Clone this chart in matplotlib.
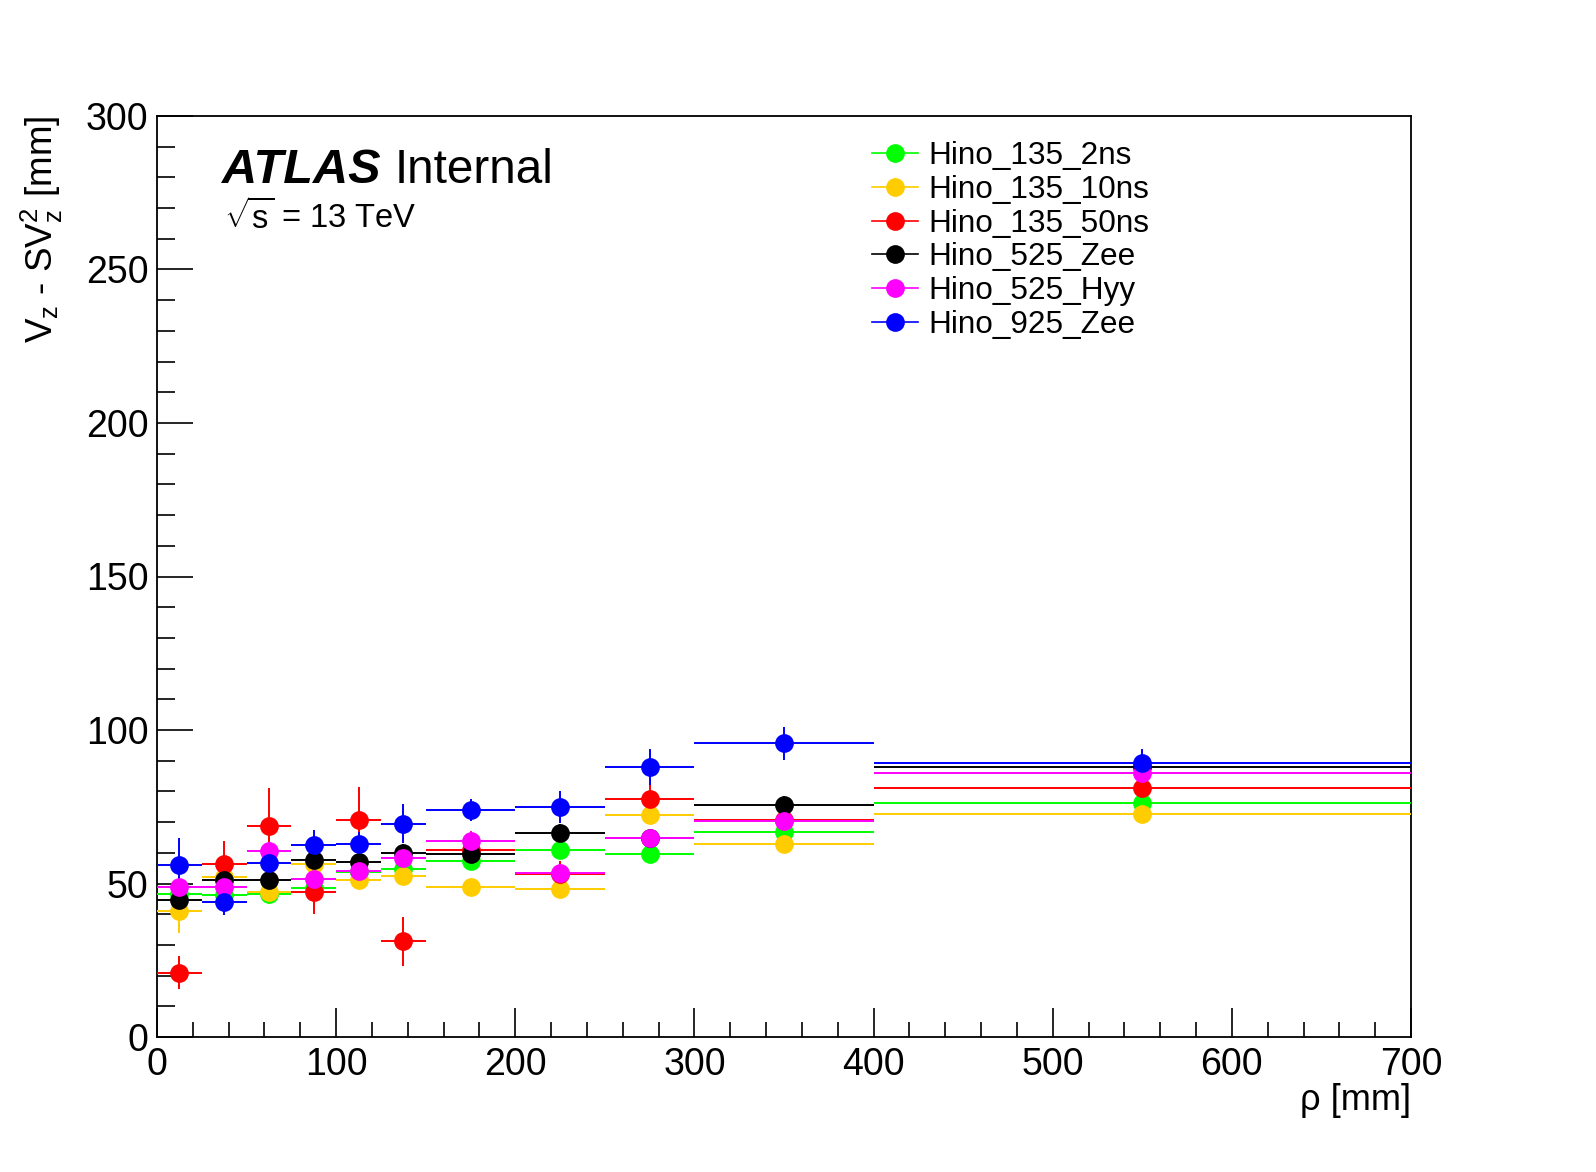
import matplotlib
matplotlib.use("Agg")
import matplotlib.pyplot as plt
from matplotlib.lines import Line2D
from matplotlib.ticker import MultipleLocator
import numpy as np

plt.rcParams['font.family'] = ['Liberation Sans', 'DejaVu Sans']
plt.rcParams['mathtext.fontset'] = 'custom'
plt.rcParams['mathtext.rm'] = 'Liberation Sans'
plt.rcParams['mathtext.it'] = 'Liberation Sans:italic'
plt.rcParams['mathtext.bf'] = 'Liberation Sans:bold'

# ---- data ----
x_edges = [0, 25, 50, 75, 100, 125, 150, 200, 250, 300, 400, 700]

series_names = ["Hino_135_2ns", "Hino_135_10ns", "Hino_135_50ns",
                "Hino_525_Zee", "Hino_525_Hyy", "Hino_925_Zee"]
series_colors = ["#00ff00", "#ffcc00", "#ff0000", "#000000", "#ff00ff", "#0000ff"]

hino_135_2ns = [46.6, 46.3, 46.6, 48.4, 53.9, 54.8, 57.3, 60.9, 59.6, 66.9, 76.2]
hino_135_10ns = [40.9, 52.1, 47.1, 56.4, 51.1, 52.6, 49.0, 48.1, 72.3, 62.8, 72.7]
hino_135_50ns = [21.0, 56.4, 68.8, 47.1, 70.7, 31.2, 60.9, 53.2, 77.4, 70.7, 81.1]
hino_525_zee = [44.6, 51.1, 51.0, 57.6, 57.0, 59.9, 59.5, 66.4, 64.7, 75.5, 88.0]
hino_525_hyy = [49.0, 48.8, 60.6, 51.5, 54.1, 58.2, 64.0, 53.4, 64.7, 70.5, 86.1]
hino_925_zee = [56.1, 43.9, 56.7, 62.4, 62.8, 69.5, 73.9, 74.9, 88.0, 95.7, 89.4]

err_135_2ns = [2.5, 2.5, 2.5, 2.5, 2.5, 2.5, 2.5, 2.5, 2.5, 2.5, 2.0]
err_135_10ns = [7.0, 2.5, 3.8, 3.0, 3.0, 3.0, 2.5, 2.5, 3.0, 2.5, 2.0]
err_135_50ns = [5.5, 7.4, 12.2, 7.0, 10.6, 8.0, 4.0, 4.0, 5.0, 4.0, 2.5]
err_525_zee = [4.5, 3.0, 3.0, 3.0, 3.0, 3.0, 3.0, 3.0, 3.0, 3.0, 2.5]
err_525_hyy = [3.0, 3.0, 3.0, 3.0, 3.0, 3.0, 3.2, 3.0, 3.0, 3.0, 2.5]
err_925_zee = [8.8, 4.3, 4.0, 4.9, 4.0, 6.4, 3.5, 5.2, 5.9, 5.4, 4.5]

values = [hino_135_2ns, hino_135_10ns, hino_135_50ns, hino_525_zee, hino_525_hyy, hino_925_zee]
errors = [err_135_2ns, err_135_10ns, err_135_50ns, err_525_zee, err_525_hyy, err_925_zee]

# ---- figure ----
W, H = 1596, 1172
fig = plt.figure(figsize=(W / 100, H / 100), dpi=100)
ax = fig.add_axes([157 / W, 1 - 1037 / H, (1411 - 157) / W, (1037 - 116) / H])

edges = np.array(x_edges, dtype=float)
centers = 0.5 * (edges[:-1] + edges[1:])
halfw = 0.5 * (edges[1:] - edges[:-1])

handles = []
for name, col, v, e in zip(series_names, series_colors, values, errors):
    ax.errorbar(centers, v, xerr=halfw, yerr=e, fmt='o', color=col,
                ecolor=col, elinewidth=1.4, capsize=0, markersize=13.5,
                markeredgewidth=0, zorder=3)
    handles.append(Line2D([0], [0], color=col, lw=1.2, marker='o',
                          markersize=13.5, markeredgewidth=0, label=name))

ax.set_xlim(0, 700)
ax.set_ylim(0, 300)
ax.xaxis.set_major_locator(MultipleLocator(100))
ax.xaxis.set_minor_locator(MultipleLocator(20))
ax.yaxis.set_major_locator(MultipleLocator(50))
ax.yaxis.set_minor_locator(MultipleLocator(10))

for s in ax.spines.values():
    s.set_linewidth(1.3)

ax.tick_params(axis='x', which='major', direction='in', length=21, width=1.2,
               labelsize=27, pad=7, top=False)
ax.tick_params(axis='x', which='minor', direction='in', length=10.5, width=1.2, top=False)
ax.tick_params(axis='y', which='major', direction='in', length=26, width=1.2,
               labelsize=27, pad=6, right=False)
ax.tick_params(axis='y', which='minor', direction='in', length=13, width=1.2, right=False)

# axis titles
ax.text(1.0, -0.0793, "ρ [mm]", transform=ax.transAxes, ha='right',
        va='baseline', fontsize=26)
ax.text(-0.0917, 1.0, r"V$_{\rm z}$ - SV$_{\rm z}^{2}$ [mm]", transform=ax.transAxes,
        rotation=90, ha='center', va='top', fontsize=26.5)

# ATLAS label
ax.text(0.0518, 0.927, "ATLAS", transform=ax.transAxes, fontsize=35,
        fontweight='bold', fontstyle='italic', va='baseline', ha='left')
ax.text(0.1898, 0.927, "Internal", transform=ax.transAxes, fontsize=34.3,
        va='baseline', ha='left')
ax.text(0.0534, 0.877, r"$\sqrt{\rm s}$ = 13 TeV", transform=ax.transAxes,
        fontsize=23.5, va='baseline', ha='left')

leg = ax.legend(handles=handles, loc='upper left',
                bbox_to_anchor=((872 - 157) / 1254, (1037 - 141) / 921),
                frameon=False, fontsize=22.7, handlelength=1.45, handletextpad=0.33,
                labelspacing=0.12, borderpad=0, borderaxespad=0)

fig.savefig("out.png", dpi=100, facecolor='white')
